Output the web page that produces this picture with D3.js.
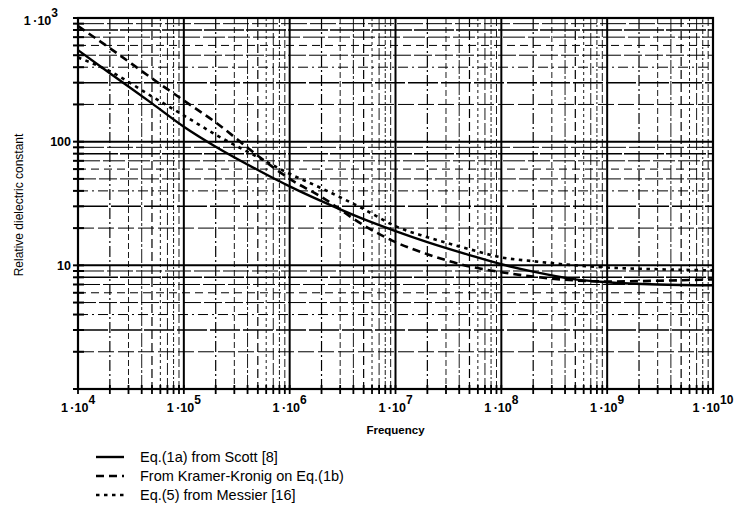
<!DOCTYPE html>
<html>
<head>
<meta charset="utf-8">
<script src="https://cdn.jsdelivr.net/npm/d3@7"></script>
<style>
  html, body { margin: 0; padding: 0; background: #fff; }
  svg { display: block; font-family: "Liberation Sans", Arial, sans-serif; }
</style>
</head>
<body>
<svg id="chart" width="736" height="512"></svg>
<script>
// Frequencies (Hz) at which each curve is sampled
const freq = [1e4, 2e4, 5e4, 1e5, 2e5, 5e5, 1e6, 2e6, 5e6, 1e7, 2e7, 5e7, 1e8, 2e8, 5e8, 1e9, 3e9, 1e10];

// Relative dielectric constant, Eq.(1a) from Scott
const scott = [550, 357, 204, 132, 91, 59, 43.5, 33, 23.6, 18.9, 15.4, 12.1, 10.2, 8.9, 7.7, 7.3, 7.0, 6.9];
// From Kramer-Kronig on Eq.(1b)
const kramerKronig = [860, 570, 325, 215, 143, 77, 50, 35.7, 21.1, 15.4, 12.3, 9.8, 8.8, 8.1, 7.55, 7.4, 7.5, 7.7];
// Eq.(5) from Messier
const messier = [480, 371, 232, 163, 114, 75, 55, 42, 28.5, 20.7, 16.9, 13.5, 11.6, 10.8, 10.0, 9.6, 9.3, 9.1];

const seriesNames = ["Eq.(1a) from Scott [8]", "From Kramer-Kronig on Eq.(1b)", "Eq.(5) from Messier [16]"];

// Axis tick labels
const xTickExps = [4, 5, 6, 7, 8, 9, 10];
const yTickValues = [10, 100, 1000];
const yTickLabels = ["10", "100", "1\u2009\u00b710|3"];

const xTitle = "Frequency";
const yTitle = "Relative dielectric constant";

const svg = d3.select("#chart");
const m = { left: 78, right: 713, top: 18, bottom: 389 };

const x = d3.scaleLog().domain([1e4, 1e10]).range([m.left, m.right]);
const y = d3.scaleLog().domain([1, 1000]).range([m.bottom, m.top]);

// minor values (2..9 within each decade)
function minors(lo, hi) {
  const out = [];
  for (let e = lo; e < hi; e++) {
    for (let k = 2; k <= 9; k++) out.push(k * Math.pow(10, e));
  }
  return out;
}
const xMinor = minors(4, 10);
const yMinor = minors(0, 3);
const xMajor = d3.range(4, 11).map(e => Math.pow(10, e));
const yMajor = [1, 10, 100, 1000];

const grid = svg.append("g");

// minor vertical grid lines, broken strokes
const vPatterns = ["11,3,2,3", "6,3", "14,2,3,2", "9,4", "3,3", "12,3", "5,2,2,2", "8,3"];
grid.selectAll("line.vmin").data(xMinor).join("line")
  .attr("class", "vmin")
  .attr("x1", d => x(d)).attr("x2", d => x(d))
  .attr("y1", m.top).attr("y2", m.bottom)
  .attr("stroke", "#000")
  .attr("stroke-width", (d, i) => (i % 8 === 0 || i % 8 === 3) ? 1.2 : 0.9)
  .attr("stroke-dasharray", (d, i) => vPatterns[i % 8]);

// minor horizontal grid lines
const hPatterns = ["16,4", "30,3", "10,4,2,4", "18,3", "8,5", "22,3", "40,2", "26,3"];
grid.selectAll("line.hmin").data(yMinor).join("line")
  .attr("class", "hmin")
  .attr("x1", m.left).attr("x2", m.right)
  .attr("y1", d => y(d)).attr("y2", d => y(d))
  .attr("stroke", "#000")
  .attr("stroke-width", (d, i) => (i % 8 === 1 || i % 8 === 6) ? 1.5 : 1)
  .attr("stroke-dasharray", (d, i) => hPatterns[i % 8]);

// major grid lines
grid.selectAll("line.vmaj").data(xMajor).join("line")
  .attr("x1", d => x(d)).attr("x2", d => x(d))
  .attr("y1", m.top).attr("y2", m.bottom)
  .attr("stroke", "#000").attr("stroke-width", 2);
grid.selectAll("line.hmaj").data(yMajor).join("line")
  .attr("x1", m.left).attr("x2", m.right)
  .attr("y1", d => y(d)).attr("y2", d => y(d))
  .attr("stroke", "#000").attr("stroke-width", 2);

// frame
svg.append("rect")
  .attr("x", m.left).attr("y", m.top)
  .attr("width", m.right - m.left).attr("height", m.bottom - m.top)
  .attr("fill", "none").attr("stroke", "#000").attr("stroke-width", 2.2);

// tick marks crossing the axes
const ticks = svg.append("g");
ticks.selectAll("line.yt").data(yMinor.concat(yMajor)).join("line")
  .attr("x1", m.left - 5).attr("x2", m.left + 6)
  .attr("y1", d => y(d)).attr("y2", d => y(d))
  .attr("stroke", "#000").attr("stroke-width", 2);
ticks.selectAll("line.xt").data(xMinor.concat(xMajor)).join("line")
  .attr("x1", d => x(d)).attr("x2", d => x(d))
  .attr("y1", m.bottom - 4).attr("y2", m.bottom + 5)
  .attr("stroke", "#000").attr("stroke-width", 1.8);

// x tick labels 1·10^n
const xl = svg.append("g")
  .attr("font-size", 12.5).attr("font-weight", "bold").attr("fill", "#000");
xl.selectAll("text").data(xTickExps).join("text")
  .attr("x", d => x(Math.pow(10, d)))
  .attr("y", m.bottom + 23)
  .attr("text-anchor", "middle")
  .each(function (d) {
    const t = d3.select(this);
    t.append("tspan").text("1\u2009\u00b710");
    t.append("tspan").attr("dy", -8).attr("font-size", 12).text(d);
  });

// y tick labels
const yl = svg.append("g")
  .attr("font-size", 12.5).attr("font-weight", "bold").attr("fill", "#000");
yl.selectAll("text").data(yTickValues).join("text")
  .attr("x", (d, i) => yTickLabels[i].includes("|") ? m.left - 20 : m.left - 7)
  .attr("y", (d, i) => y(d) + (yTickLabels[i].includes("|") ? 7 : 4.5))
  .attr("text-anchor", "end")
  .each(function (d, i) {
    const parts = yTickLabels[i].split("|");
    const t = d3.select(this);
    t.append("tspan").text(parts[0]);
    if (parts[1]) t.append("tspan").attr("dy", -8).attr("font-size", 12).text(parts[1]);
  });

// axis titles
svg.append("text")
  .attr("x", (m.left + m.right) / 2).attr("y", 434)
  .attr("text-anchor", "middle").attr("font-size", 11.5).attr("font-weight", "bold")
  .text(xTitle);
svg.append("text")
  .attr("transform", `translate(23,205) rotate(-90)`)
  .attr("text-anchor", "middle").attr("font-size", 12)
  .text(yTitle);

// curves
const styles = [
  { dash: null, width: 2.4 },
  { dash: "8,5", width: 2.6 },
  { dash: "3.5,4.5", width: 2.6 }
];
const seriesData = [scott, kramerKronig, messier];
const line = d3.line()
  .x(d => x(d[0])).y(d => y(d[1]))
  .curve(d3.curveMonotoneX);

const curves = svg.append("g").attr("fill", "none").attr("stroke", "#000");
curves.selectAll("path").data(seriesData).join("path")
  .attr("d", vals => line(freq.map((f, i) => [f, vals[i]])))
  .attr("stroke-width", (d, i) => styles[i].width)
  .attr("stroke-dasharray", (d, i) => styles[i].dash);

// legend
const legend = svg.append("g");
const rows = legend.selectAll("g").data(seriesNames).join("g")
  .attr("transform", (d, i) => `translate(0,${457 + i * 19})`);
rows.append("line")
  .attr("x1", 96).attr("x2", 124).attr("y1", 0).attr("y2", 0)
  .attr("stroke", "#000")
  .attr("stroke-width", (d, i) => styles[i].width)
  .attr("stroke-dasharray", (d, i) => styles[i].dash);
rows.append("text")
  .attr("x", 140).attr("y", 5)
  .attr("font-size", 14.5)
  .text(d => d);
</script>
</body>
</html>
